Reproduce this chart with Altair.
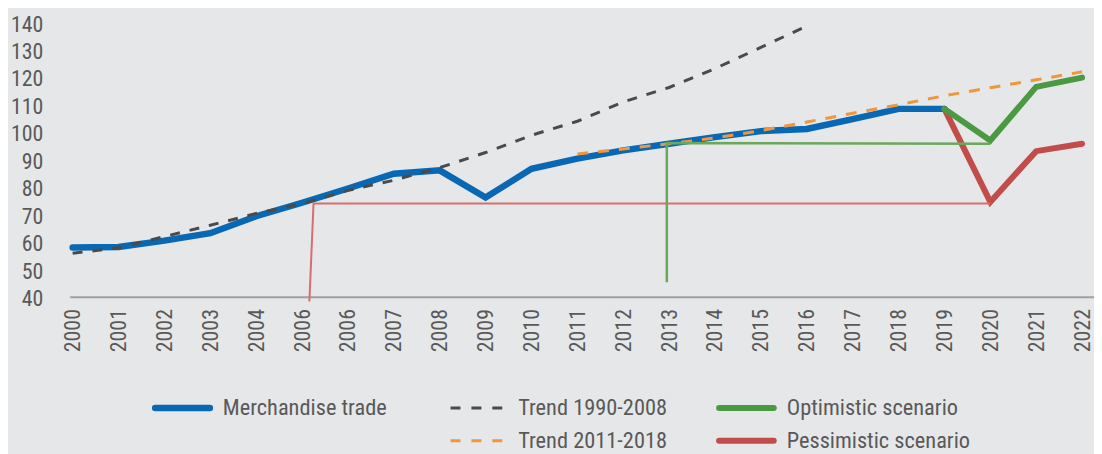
import altair as alt
import pandas as pd

# ---------------- data ----------------
tick_labels = ["2000", "2001", "2002", "2003", "2004", "2006", "2006", "2007", "2008",
               "2009", "2010", "2011", "2012", "2013", "2014", "2015", "2016", "2017",
               "2018", "2019", "2020", "2021", "2022"]

# Merchandise trade, categories 0..19 (2000-2019)
merch = [57.9, 58.1, 60.4, 63.1, 69.3, 74.2, 79.4, 84.8, 86.0, 76.1, 86.6, 90.3,
         93.3, 95.7, 98.1, 100.3, 101.1, 104.7, 108.4, 108.4]
# Trend 1990-2008, categories 0..16
trend_9008 = [55.8, 57.8, 61.9, 66.0, 70.3, 73.9, 78.7, 82.4, 87.0, 92.5, 98.8,
              103.9, 110.9, 116.2, 123.1, 130.8, 138.6]
# Trend 2011-2018, categories 11..22
trend_1118 = [92.0, 93.8, 95.7, 97.8, 100.5, 103.6, 106.8, 109.9, 113.2, 116.1,
              119.0, 121.9]
# Scenarios, categories 19..22
optimistic = [108.4, 96.9, 116.4, 119.8]
pessimistic = [108.4, 74.5, 93.0, 95.7]

# guide lines (category position, value)
pess_guide_x = [5.16, 5.25, 20]
pess_guide_y = [38.2, 73.9, 73.9]
opt_guide_x = [12.95, 12.95, 20]
opt_guide_y = [45.2, 96.0, 95.7]

names = ["Merchandise trade", "Trend 1990-2008", "Trend 2011-2018",
         "Optimistic scenario", "Pessimistic scenario"]
legend_col = [0, 1, 1, 2, 2]
legend_row = [0, 0, 1, 0, 1]

# ---------------- tables ----------------
rows = []
def add(name, start, vals):
    for k, v in enumerate(vals):
        rows.append({"series": name, "i": start + k, "v": v, "k": k})

add("Merchandise trade", 0, merch)
add("Trend 1990-2008", 0, trend_9008)
add("Trend 2011-2018", 11, trend_1118)
add("Optimistic scenario", 19, optimistic)
add("Pessimistic scenario", 19, pessimistic)
add("pess_guide", 0, pess_guide_y)
add("opt_guide", 0, opt_guide_y)
df = pd.DataFrame(rows)
for nm, xs in (("pess_guide", pess_guide_x), ("opt_guide", opt_guide_x)):
    idx = df.index[df.series == nm]
    df.loc[idx, "i"] = xs

leg = pd.DataFrame({"name": names, "col": legend_col, "row": legend_row})

# ---------------- styles ----------------
FONT = "Roboto Condensed, Liberation Sans Narrow, DejaVu Sans Condensed, Roboto, sans-serif"
TXT = "#595959"
style = {
    "Merchandise trade": dict(color="#0868b4", strokeWidth=6.5, strokeCap="round"),
    "Trend 1990-2008": dict(color="#4a4a4a", strokeWidth=3, strokeDash=[10, 10]),
    "Trend 2011-2018": dict(color="#f0963c", strokeWidth=3, strokeDash=[11, 10]),
    "Optimistic scenario": dict(color="#4b9a43", strokeWidth=6, strokeCap="round"),
    "Pessimistic scenario": dict(color="#c14c49", strokeWidth=6, strokeCap="round"),
    "pess_guide": dict(color="#d56e6e", strokeWidth=2),
    "opt_guide": dict(color="#6aa85a", strokeWidth=2.5),
}
draw_order = ["Merchandise trade", "Pessimistic scenario", "Optimistic scenario",
              "Trend 1990-2008", "Trend 2011-2018", "pess_guide", "opt_guide"]

label_expr = "[" + ",".join("'%s'" % t for t in tick_labels) + "][datum.value]"

x_enc = alt.X("i:Q",
              scale=alt.Scale(domain=[-0.065, 22.26], nice=False, zero=False),
              axis=alt.Axis(values=list(range(len(tick_labels))), labelExpr=label_expr,
                            labelAngle=-90, ticks=False, grid=False, title=None,
                            domainColor="#a0a0a0", domainWidth=2, labelPadding=12,
                            labelFont=FONT, labelFontSize=22, labelColor=TXT))
y_enc = alt.Y("v:Q",
              scale=alt.Scale(domain=[40, 140], nice=False, zero=False),
              axis=alt.Axis(values=list(range(40, 141, 10)), ticks=False, grid=False,
                            domain=False, title=None, labelPadding=27, labelOffset=2,
                            labelFont=FONT, labelFontSize=22, labelColor=TXT))

base = alt.Chart(df)
main_layers = []
for nm in draw_order:
    main_layers.append(
        base.transform_filter(alt.datum.series == nm)
        .mark_line(**style[nm])
        .encode(x=x_enc, y=y_enc, order="k:Q")
    )
main = alt.layer(*main_layers)

# ---------------- legend ----------------
lx = alt.X("col:Q", scale=alt.Scale(domain=[0, 1, 2], range=[86, 383, 653],
                                    nice=False, zero=False), axis=None)
ly = alt.Y("row:Q", scale=alt.Scale(domain=[0, 1], range=[388, 421],
                                    nice=False, zero=False), axis=None)
lbase = alt.Chart(leg)
legend_layers = []
for nm in names:
    st = dict(style[nm])
    if nm == "Trend 1990-2008" or nm == "Trend 2011-2018":
        st["strokeDash"] = [10, 11]
    legend_layers.append(
        lbase.transform_filter(alt.datum.name == nm)
        .mark_rule(x2Offset=55, **st)
        .encode(x=lx, x2="col:Q", y=ly)
    )
legend_layers.append(
    lbase.mark_text(align="left", baseline="middle", dx=68, font=FONT,
                    fontSize=22.5, color=TXT)
    .encode(x=lx, y=ly, text="name:N")
)
legend = alt.layer(*legend_layers)

chart = (
    alt.layer(main, legend)
    .resolve_scale(x="independent", y="independent")
    .properties(width=1030, height=276, background="#e6e7e9",
                padding={"left": 62, "top": 13, "right": 0, "bottom": 157},
                autosize=alt.AutoSizeParams(type="none"))
    .configure_view(stroke=None)
)

chart.save("out.html", embed_options={"renderer": "svg", "actions": False})
